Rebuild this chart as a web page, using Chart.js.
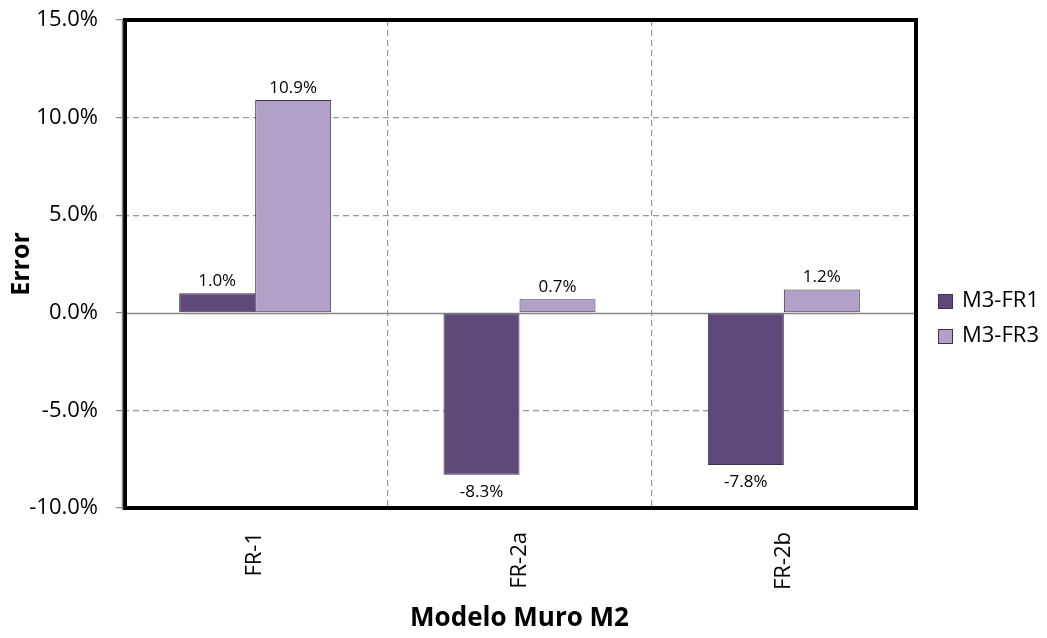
<!DOCTYPE html>
<html><head><meta charset="utf-8">
<script src="https://cdn.jsdelivr.net/npm/chart.js@4"></script>
<style>html,body{margin:0;padding:0;background:#fff}#w{width:1047px;height:638px}</style>
</head><body><div id="w"><canvas id="c" width="1047" height="638"></canvas></div>
<script>
const categories = ['FR-1','FR-2a','FR-2b'];
const seriesNames = ['M3-FR1','M3-FR3'];
const fr1Values = [1.0, -8.3, -7.8];
const fr3Values = [10.9, 0.7, 1.2];
const yTicks = [-10, -5, 0, 5, 10, 15];
const colors = ['#5F497A','#B1A0C7'];
const borderCol = '#3F3151';
const FONT = "'Open Sans', sans-serif";

const labelsPlugin = {
  id:'labels',
  afterDatasetsDraw(chart){
    const ctx = chart.ctx;
    ctx.save();
    ctx.font = '17px ' + FONT;
    ctx.fillStyle = '#000';
    ctx.textAlign = 'center';
    ctx.textBaseline = 'middle';
    chart.data.datasets.forEach((ds,i)=>{
      const meta = chart.getDatasetMeta(i);
      meta.data.forEach((bar,j)=>{
        const v = ds.data[j];
        const txt = v.toFixed(1)+'%';
        if (v>=0) ctx.fillText(txt, bar.x, bar.y-12);
        else ctx.fillText(txt, bar.x, bar.y+17);
      });
    });
    ctx.restore();
  }
};
const zeroLinePlugin = {
  id:'zero',
  beforeDatasetsDraw(chart){
    const a = chart.chartArea, ctx = chart.ctx, y = Math.round(chart.scales.y.getPixelForValue(0))+0.5;
    ctx.save();
    ctx.strokeStyle = '#888'; ctx.lineWidth = 1.5;
    ctx.beginPath(); ctx.moveTo(a.left, y); ctx.lineTo(a.right, y); ctx.stroke();
    ctx.restore();
  }
};
const framePlugin = {
  id:'frame',
  afterDraw(chart){
    const a = chart.chartArea, ctx = chart.ctx;
    ctx.save();
    ctx.strokeStyle = '#000'; ctx.lineWidth = 4;
    ctx.strokeRect(a.left+2, a.top, a.right-a.left-2, a.bottom-a.top);
    ctx.strokeStyle = '#888'; ctx.lineWidth = 1.5;
    ctx.beginPath(); ctx.moveTo(a.left-0.5, a.top); ctx.lineTo(a.left-0.5, a.bottom+2); ctx.stroke();
    // legend
    ctx.font = '22px ' + FONT; ctx.textBaseline='middle'; ctx.textAlign='left';
    seriesNames.forEach((n,i)=>{
      const y = 301 + i*35;
      ctx.fillStyle = colors[i]; ctx.fillRect(938, y-7, 15, 15);
      ctx.strokeStyle = borderCol; ctx.lineWidth = 1; ctx.strokeRect(938.5, y-6.5, 14, 14);
      ctx.fillStyle = '#000'; ctx.fillText(n, 962, y);
    });
    ctx.restore();
  }
};

new Chart(document.getElementById('c'), {
  type:'bar',
  data:{ labels: categories, datasets:[
    {label:seriesNames[0], data:fr1Values, backgroundColor:colors[0], borderColor:borderCol, borderWidth:1, borderSkipped:false},
    {label:seriesNames[1], data:fr3Values, backgroundColor:colors[1], borderColor:borderCol, borderWidth:1, borderSkipped:false}
  ]},
  options:{
    responsive:false, animation:false,
    layout:{padding:{top:20, right:131, left:0, bottom:0}},
    datasets:{bar:{categoryPercentage:0.575, barPercentage:1}},
    plugins:{legend:{display:false}, tooltip:{enabled:false}},
    scales:{
      y:{
        min:-10, max:15,
        afterBuildTicks(s){ s.ticks = yTicks.map(v=>({value:v})); },
        afterFit(s){ s.width = 123; s.paddingTop = 0; s.paddingBottom = 0; },
        ticks:{ callback:v=>v.toFixed(1)+'%', font:{family:FONT, size:22}, color:'#000', padding:18 },
        grid:{ color:ctx=>ctx.tick && ctx.tick.value===0 ? 'rgba(0,0,0,0)' : '#999', lineWidth:1.2,
               tickColor:'#888', tickLength:7, drawTicks:true },
        border:{ display:false, dash:[6,4] },
        title:{ display:true, text:'Error', font:{family:FONT, size:25, weight:'bold'}, color:'#000', padding:{top:7,bottom:2} }
      },
      x:{
        afterFit(s){ s.height = 130; s.paddingLeft = 0; s.paddingRight = 0; },
        ticks:{ minRotation:90, maxRotation:90, font:{family:FONT, size:22}, color:'#000', padding:24 },
        grid:{ offset:true, color:'#999', lineWidth:1.2, drawTicks:false },
        border:{ display:false, dash:[6,4] },
        title:{ display:true, text:'Modelo Muro M2', font:{family:FONT, size:26, weight:'bold'}, color:'#000', padding:{top:0,bottom:4} }
      }
    }
  },
  plugins:[zeroLinePlugin, labelsPlugin, framePlugin]
});
</script></body></html>
